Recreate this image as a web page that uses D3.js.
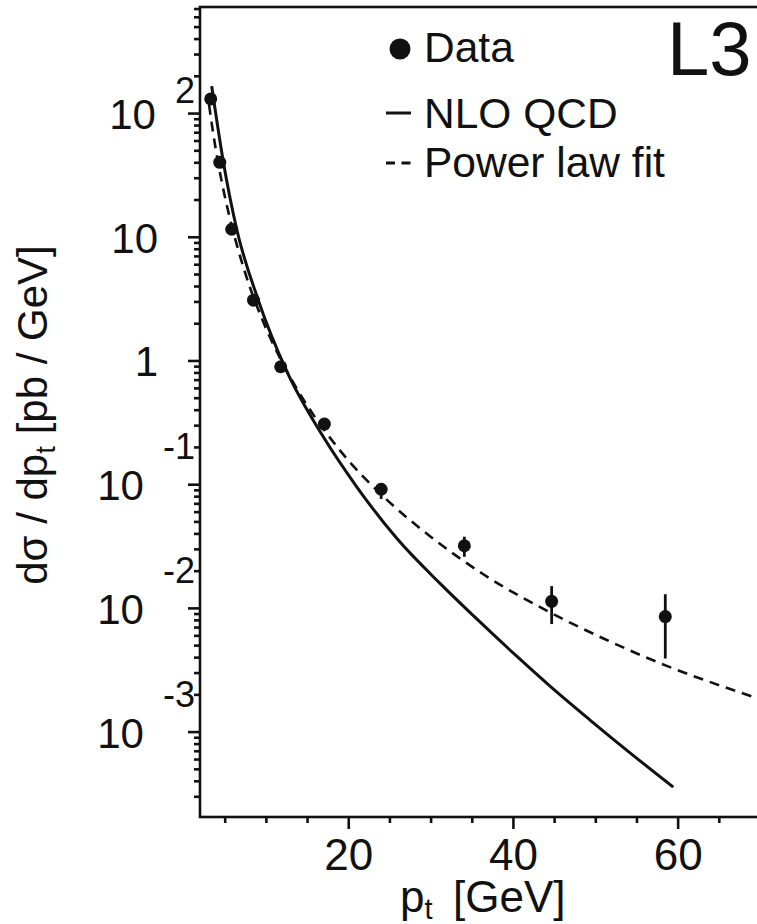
<!DOCTYPE html>
<html>
<head>
  <title>L3 pt spectrum</title>
  <style>
    body { margin: 0; background: #fff; }
    svg text { font-family: 'Liberation Sans', Arial, sans-serif; fill: #111; }
  </style>
</head>
<body>
  <div id="chart"></div>

  <script src="https://d3js.org/d3.v7.min.js"></script>
  <script>
    // Data (pt in GeV, dsigma/dpt in pb/GeV)
    const dataPt   = [3.3, 4.4, 5.85, 8.5, 11.8, 17.1, 24.0, 34.1, 44.7, 58.5];
    const dataVal  = [130, 40, 11.5, 3.07, 0.89, 0.306, 0.091, 0.0318, 0.0113, 0.0085];
    const dataLow  = [124, 38, 11.0, 2.95, 0.85, 0.29, 0.076, 0.0259, 0.0074, 0.0039];
    const dataHigh = [136, 42, 12.0, 3.2, 0.93, 0.325, 0.100, 0.0376, 0.0150, 0.0129];

    // NLO QCD prediction (solid)
    const nloPt  = [3.42, 4.83, 6.46, 9.08, 12.53, 16.97, 21.03, 25.89, 31.14, 35.19, 40.46, 44.5, 49.36, 54.63, 59.47];
    const nloVal = [165, 40.4, 11.5, 3.07, 0.82, 0.2415, 0.0953, 0.0365, 0.01578, 0.00865, 0.00407, 0.00233, 0.00124, 0.00064, 0.000356];

    // power law fit (dashed)
    const fitPt  = [3.1, 3.5, 4.22, 5.0, 5.64, 7.0, 8.07, 9.49, 12, 14.34, 18.79, 24.67, 29.93, 36.4, 44.5, 51.39, 58.67, 68.78, 70];
    const fitVal = [117, 76, 39, 21.4, 14.0, 6.5, 3.9, 2.2, 0.96, 0.51, 0.195, 0.075, 0.038, 0.0187, 0.0092, 0.0055, 0.0034, 0.00195, 0.00183];

    const xMajorTicks = [20, 40, 60];
    const xMinorTicks = [5, 10, 15, 25, 30, 35, 45, 50, 55, 65];
    const yMajorTicks = [1e-3, 1e-2, 1e-1, 1, 10, 100];
    const yTickBase   = ["10", "10", "10", "1", "10", "10"];
    const yTickExp    = ["-3", "-2", "-1", "", "", "2"];

    const legendLabels = ["Data", "NLO QCD", "Power law fit"];

    const width = 757, height = 924;
    const plotLeft = 200, plotRight = 760, plotTop = 7, plotBottom = 817;

    const svg = d3.select("#chart")
      .append("svg")
      .attr("width", width)
      .attr("height", height);

    svg.append("rect").attr("width", width).attr("height", height).attr("fill", "#fff");

    // Scales
    const x = d3.scaleLinear().domain([2, 70]).range([plotLeft, plotRight]);
    const y = d3.scaleLog().domain([2.04e-4, 720]).range([plotBottom, plotTop]);

    // minor log ticks 2..9 per decade
    const yMinorTicks = [];
    for (let e = -4; e <= 2; e++) {
      for (let k = 2; k <= 9; k++) {
        const v = k * Math.pow(10, e);
        if (v > y.domain()[0] && v < y.domain()[1]) yMinorTicks.push(v);
      }
    }

    // Frame
    svg.append("rect")
      .attr("x", plotLeft).attr("y", plotTop)
      .attr("width", plotRight - plotLeft).attr("height", plotBottom - plotTop)
      .attr("fill", "none").attr("stroke", "#111").attr("stroke-width", 2.6);

    // X axis ticks
    const xMinor = svg.append("g")
      .attr("transform", `translate(0,${plotBottom})`)
      .call(d3.axisBottom(x).tickValues(xMinorTicks).tickSize(6).tickFormat(""));
    const xMajor = svg.append("g")
      .attr("transform", `translate(0,${plotBottom})`)
      .call(d3.axisBottom(x).tickValues(xMajorTicks).tickSize(12).tickFormat(d3.format("d")));
    xMajor.selectAll("text")
      .attr("y", 53).attr("dy", 0)
      .attr("fill", "#111")
      .style("font-size", "44px");

    // Y axis ticks
    const yMinor = svg.append("g")
      .attr("transform", `translate(${plotLeft},0)`)
      .call(d3.axisLeft(y).tickValues(yMinorTicks).tickSize(6).tickFormat(""));
    const yMajor = svg.append("g")
      .attr("transform", `translate(${plotLeft},0)`)
      .call(d3.axisLeft(y).tickValues(yMajorTicks).tickSize(12).tickFormat(""));

    [xMinor, xMajor, yMinor, yMajor].forEach(g => {
      g.attr("font-family", null).attr("font-size", null);
      g.select(".domain").remove();
      g.selectAll("line").attr("stroke", "#111").attr("stroke-width", 2.6);
    });

    // Y tick labels: "10" with exponent placed up and to the right
    yMajorTicks.forEach((v, i) => {
      const ty = y(v);
      let baseEnd = 158;
      if (yTickExp[i] !== "") {
        const ex = svg.append("text")
          .attr("x", 195)
          .attr("y", ty + (yTickExp[i][0] === "-" ? -25 : -10))
          .attr("text-anchor", "end")
          .style("font-size", "36px")
          .text(yTickExp[i]);
        baseEnd = 195 - ex.node().getComputedTextLength() - 19;
      }
      svg.append("text")
        .attr("x", baseEnd)
        .attr("y", ty + 16)
        .attr("text-anchor", "end")
        .style("font-size", "42px")
        .text(yTickBase[i]);
    });

    // Axis titles
    const yTitle = svg.append("text")
      .attr("transform", "translate(47,415) rotate(-90)")
      .attr("text-anchor", "middle")
      .style("font-size", "42px");
    yTitle.append("tspan").text("d\u03c3 / dp");
    yTitle.append("tspan").attr("dy", 8).style("font-size", "28px").text("t");
    yTitle.append("tspan").attr("dy", -8).text(" [pb / GeV]");

    const xTitle = svg.append("text")
      .attr("x", 400).attr("y", 912)
      .style("font-size", "44px");
    xTitle.append("tspan").text("p");
    xTitle.append("tspan").attr("dy", 7).style("font-size", "29px").text("t");
    xTitle.append("tspan").attr("x", 453).attr("dy", -7).text("[GeV]");

    // Curves
    svg.append("clipPath").attr("id", "plot-clip")
      .append("rect").attr("x", plotLeft).attr("y", plotTop)
      .attr("width", plotRight - plotLeft).attr("height", plotBottom - plotTop);

    const line = d3.line()
      .x(d => x(d[0]))
      .y(d => y(d[1]))
      .curve(d3.curveMonotoneX);

    svg.append("path")
      .datum(nloPt.map((p, i) => [p, nloVal[i]]))
      .attr("clip-path", "url(#plot-clip)")
      .attr("d", line)
      .attr("fill", "none")
      .attr("stroke", "#111")
      .attr("stroke-width", 3);

    svg.append("path")
      .datum(fitPt.map((p, i) => [p, fitVal[i]]))
      .attr("clip-path", "url(#plot-clip)")
      .attr("d", line)
      .attr("fill", "none")
      .attr("stroke", "#111")
      .attr("stroke-width", 2.6)
      .attr("stroke-dasharray", "10,7");

    // Data points with error bars
    const points = dataPt.map((p, i) => ({ pt: p, v: dataVal[i], lo: dataLow[i], hi: dataHigh[i] }));

    svg.selectAll(".err")
      .data(points)
      .enter()
      .append("line")
      .attr("class", "err")
      .attr("x1", d => x(d.pt)).attr("x2", d => x(d.pt))
      .attr("y1", d => y(d.lo)).attr("y2", d => y(d.hi))
      .attr("stroke", "#111")
      .attr("stroke-width", 2.8);

    svg.selectAll(".pt")
      .data(points)
      .enter()
      .append("circle")
      .attr("class", "pt")
      .attr("cx", d => x(d.pt))
      .attr("cy", d => y(d.v))
      .attr("r", 6.5)
      .attr("fill", "#111");

    // Legend
    const legend = svg.append("g");
    legend.append("circle").attr("cx", 400).attr("cy", 49).attr("r", 10.5).attr("fill", "#111");
    legend.append("line")
      .attr("x1", 386).attr("x2", 411).attr("y1", 113).attr("y2", 113)
      .attr("stroke", "#111").attr("stroke-width", 3);
    legend.append("line")
      .attr("x1", 386).attr("x2", 411).attr("y1", 163).attr("y2", 163)
      .attr("stroke", "#111").attr("stroke-width", 3)
      .attr("stroke-dasharray", "9,6.5");

    legend.selectAll(".leg-text")
      .data(legendLabels)
      .enter()
      .append("text")
      .attr("class", "leg-text")
      .attr("x", 424)
      .attr("y", (d, i) => [62, 128, 177][i])
      .style("font-size", "42.5px")
      .text(d => d);

    // Experiment tag
    svg.append("text")
      .attr("x", 667).attr("y", 75)
      .style("font-size", "76px")
      .text("L3");
  </script>
</body>
</html>
